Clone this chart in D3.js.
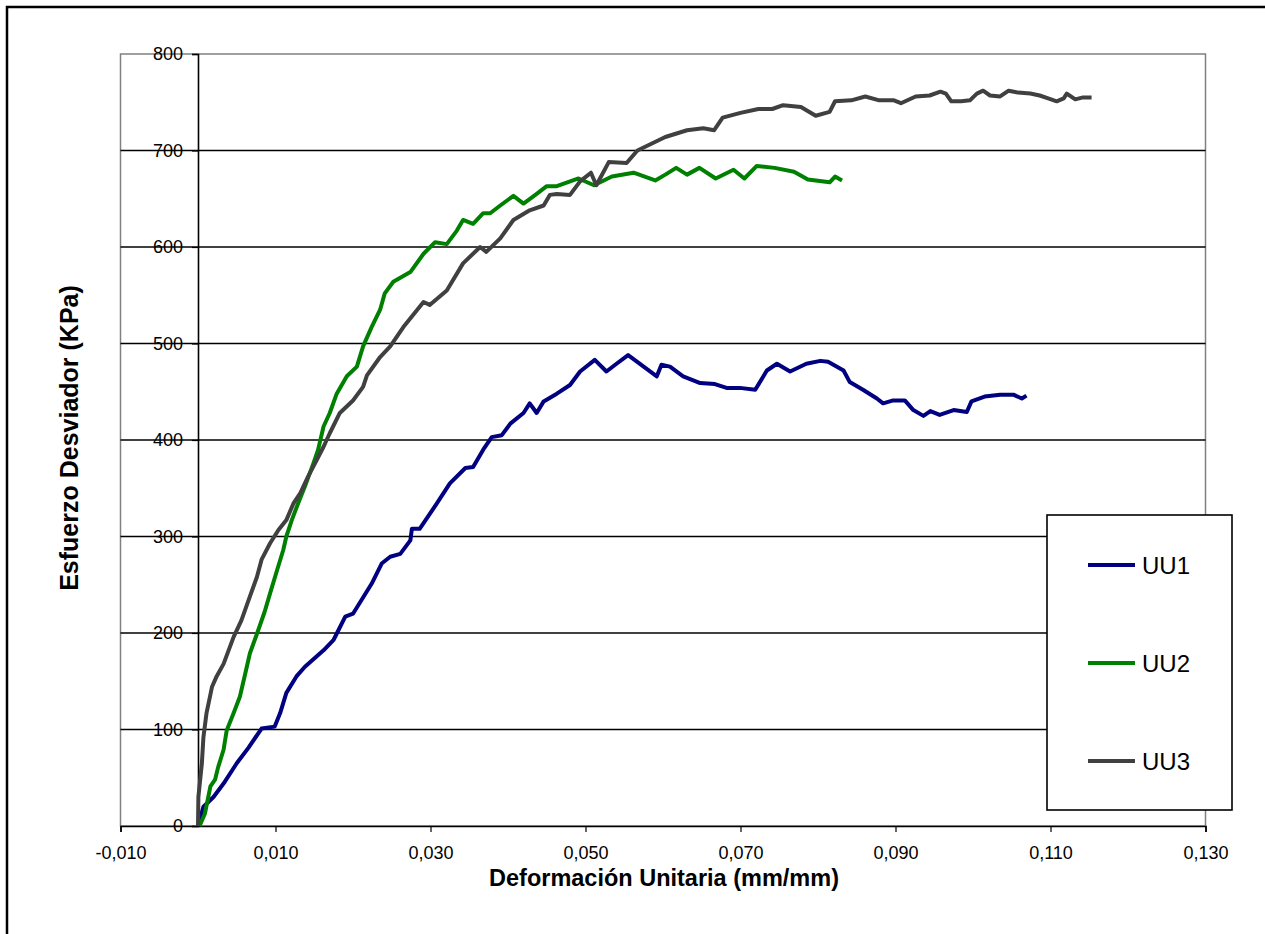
<!DOCTYPE html>
<html><head><meta charset="utf-8">
<script src="https://cdn.jsdelivr.net/npm/d3@7"></script>
<style>html,body{margin:0;padding:0;background:#fff;overflow:hidden}svg{display:block;font-family:"Liberation Sans",Arial,sans-serif}</style>
</head><body>
<script>
const xTicks = [-0.010, 0.010, 0.030, 0.050, 0.070, 0.090, 0.110, 0.130];
const yTicks = [0, 100, 200, 300, 400, 500, 600, 700, 800];
const seriesNames = ["UU1", "UU2", "UU3"];
const seriesColors = ["#000080", "#008000", "#404040"];
const uu1 = [[0,0],[0.0007,20],[0.0020,30],[0.0033,44],[0.0050,65],[0.0065,81],[0.0082,101],[0.0099,103],[0.0106,117],[0.0114,138],[0.0127,155],[0.0138,165],[0.0162,182],[0.0175,193],[0.0190,217],[0.0200,220],[0.0224,251],[0.0237,272],[0.0248,279],[0.0261,282],[0.0274,296],[0.0276,308],[0.0286,308],[0.0308,334],[0.0325,355],[0.0345,371],[0.0355,372],[0.0368,390],[0.0379,403],[0.0392,405],[0.0403,417],[0.0420,428],[0.0428,438],[0.0437,428],[0.0446,440],[0.0463,448],[0.0480,457],[0.0493,471],[0.0512,483],[0.0527,471],[0.0540,479],[0.0555,488],[0.0575,476],[0.0592,466],[0.0598,478],[0.0609,476],[0.0626,466],[0.0648,459],[0.0667,458],[0.0682,454],[0.0699,454],[0.0719,452],[0.0734,472],[0.0747,479],[0.0764,471],[0.0785,479],[0.0803,482],[0.0813,481],[0.0833,472],[0.0841,460],[0.0858,452],[0.0876,443],[0.0884,438],[0.0897,441],[0.0912,441],[0.0923,431],[0.0936,425],[0.0945,430],[0.0957,426],[0.0975,431],[0.0992,429],[0.0998,440],[0.1015,445],[0.1035,447],[0.1052,447],[0.1063,443],[0.1069,446]];
const uu2 = [[0.0002,0],[0.0009,13],[0.0016,41],[0.0022,48],[0.0026,61],[0.0033,79],[0.0037,99],[0.0046,117],[0.0054,134],[0.0061,158],[0.0067,179],[0.0076,199],[0.0086,222],[0.0093,241],[0.0102,265],[0.0110,286],[0.0114,300],[0.0121,317],[0.0129,334],[0.0138,352],[0.0149,376],[0.0155,390],[0.0162,414],[0.0170,428],[0.0179,448],[0.0192,466],[0.0205,476],[0.0213,497],[0.0224,517],[0.0235,535],[0.0241,552],[0.0252,564],[0.0274,574],[0.0291,593],[0.0306,605],[0.0321,603],[0.0334,617],[0.0342,628],[0.0355,624],[0.0368,635],[0.0377,635],[0.0390,643],[0.0407,653],[0.0420,645],[0.0437,655],[0.0450,663],[0.0463,663],[0.0491,671],[0.0511,664],[0.0534,673],[0.0562,677],[0.0590,669],[0.0603,675],[0.0617,682],[0.0631,675],[0.0647,682],[0.0668,671],[0.0691,680],[0.0705,671],[0.0721,684],[0.0744,682],[0.0769,678],[0.0787,670],[0.0815,667],[0.0822,673],[0.0831,669]];
const uu3 = [[0,0],[0.00005,30],[0.0005,65],[0.0007,92],[0.0011,117],[0.0018,144],[0.0024,155],[0.0033,168],[0.0046,196],[0.0056,213],[0.0067,238],[0.0076,258],[0.0082,276],[0.0093,293],[0.0104,307],[0.0114,317],[0.0123,334],[0.0132,345],[0.0142,362],[0.0153,379],[0.0162,393],[0.0170,407],[0.0183,428],[0.0200,441],[0.0213,455],[0.0218,467],[0.0235,486],[0.0248,497],[0.0265,517],[0.0291,543],[0.0299,540],[0.0321,555],[0.0342,583],[0.0364,600],[0.0372,595],[0.0390,609],[0.0407,628],[0.0428,638],[0.0446,643],[0.0454,654],[0.0463,655],[0.0480,654],[0.0493,668],[0.0507,677],[0.0514,664],[0.0530,688],[0.0553,687],[0.0567,700],[0.0585,707],[0.0603,714],[0.0631,721],[0.0652,723],[0.0666,721],[0.0677,734],[0.0700,739],[0.0723,743],[0.0741,743],[0.0755,747],[0.0778,745],[0.0797,736],[0.0815,740],[0.0822,751],[0.0843,752],[0.0861,756],[0.0879,752],[0.0898,752],[0.0907,749],[0.0926,756],[0.0944,757],[0.0958,761],[0.0965,759],[0.0972,751],[0.0985,751],[0.0996,752],[0.1005,759],[0.1013,762],[0.1022,757],[0.1035,756],[0.1046,762],[0.1058,760],[0.1074,759],[0.1086,757],[0.1097,754],[0.1108,751],[0.1117,754],[0.1121,759],[0.1132,753],[0.1142,755],[0.1153,755]];
const xTitle = "Deformación Unitaria (mm/mm)";
const yTitle = "Esfuerzo Desviador (KPa)";

const W = 1265, H = 934;
const svg = d3.select("body").append("svg").attr("width", W).attr("height", H);
const L = 120.5, R = 1205.5, T = 54, B = 826;
const x = d3.scaleLinear().domain([-0.010, 0.130]).range([L, R]);
const y = d3.scaleLinear().domain([0, 800]).range([B, T]);

// outer chart border
svg.append("rect").attr("x", 7).attr("y", 7).attr("width", 1400).attr("height", 1100)
  .attr("fill", "none").attr("stroke", "#000").attr("stroke-width", 2.5);

// plot area border (gray)
svg.append("rect").attr("x", L).attr("y", T).attr("width", R - L).attr("height", B - T)
  .attr("fill", "none").attr("stroke", "#808080").attr("stroke-width", 1.5);

// gridlines
svg.append("g").selectAll("line").data(yTicks.filter(d => d > 0 && d < 800)).join("line")
  .attr("x1", L).attr("x2", R).attr("y1", d => y(d)).attr("y2", d => y(d))
  .attr("stroke", "#000").attr("stroke-width", 1.6);

const fontFam = "Liberation Sans, Arial, sans-serif";
// x axis
const fmtX = d => d3.format(".3f")(d).replace(".", ",").replace("−", "-");
const xAxis = svg.append("g").attr("transform", `translate(0,${B})`)
  .call(d3.axisBottom(x).tickValues(xTicks).tickSize(6).tickPadding(14).tickFormat(fmtX));
xAxis.select(".domain").attr("stroke", "#000").attr("stroke-width", 1.6);
xAxis.selectAll(".tick line").attr("stroke", "#000").attr("stroke-width", 1.2);
xAxis.selectAll("text").attr("font-size", 18).attr("fill", "#000").attr("font-family", fontFam);

// y axis at x = 0
const yAxis = svg.append("g").attr("transform", `translate(${x(0)},0)`)
  .call(d3.axisLeft(y).tickValues(yTicks).tickSize(6).tickPadding(9).tickFormat(d3.format("d")));
yAxis.select(".domain").attr("stroke", "#000").attr("stroke-width", 1.6);
yAxis.selectAll(".tick line").attr("stroke", "#000").attr("stroke-width", 1.2);
yAxis.selectAll("text").attr("font-size", 18).attr("fill", "#000").attr("font-family", fontFam);

// series
const line = d3.line().x(d => x(d[0])).y(d => y(d[1]));
[uu1, uu2, uu3].forEach((s, i) => {
  svg.append("path").datum(s).attr("d", line).attr("fill", "none")
    .attr("stroke", seriesColors[i]).attr("stroke-width", 4).attr("stroke-linejoin", "round");
});

// axis titles
svg.append("text").attr("x", 664).attr("y", 886).attr("text-anchor", "middle")
  .attr("font-size", 23.5).attr("font-weight", "bold").text(xTitle);
svg.append("text").attr("transform", "translate(78,438) rotate(-90)").attr("text-anchor", "middle")
  .attr("font-size", 25).attr("font-weight", "bold").text(yTitle);

// legend
const lg = svg.append("g");
lg.append("rect").attr("x", 1047).attr("y", 515).attr("width", 185).attr("height", 295)
  .attr("fill", "#fff").attr("stroke", "#000").attr("stroke-width", 1.6);
const legendY = d3.scalePoint().domain(seriesNames).range([565, 761]);
seriesNames.forEach((n, i) => {
  lg.append("line").attr("x1", 1088).attr("x2", 1135).attr("y1", legendY(n)).attr("y2", legendY(n))
    .attr("stroke", seriesColors[i]).attr("stroke-width", 4);
  lg.append("text").attr("x", 1142).attr("y", legendY(n)).attr("dy", "0.36em")
    .attr("font-size", 24).text(n);
});
</script>
</body></html>
